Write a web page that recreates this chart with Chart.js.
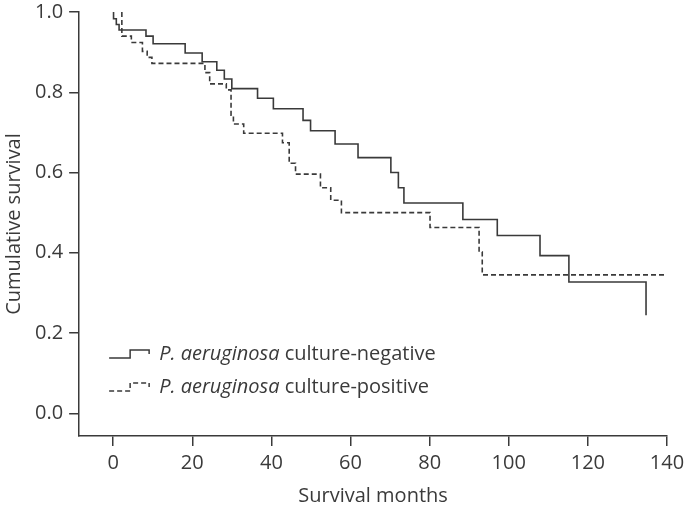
<!DOCTYPE html>
<html>
<head>
<meta charset="utf-8">
<script src="https://cdn.jsdelivr.net/npm/chart.js@4.4.1/dist/chart.umd.min.js"></script>
<style>
  html, body { margin: 0; padding: 0; background: #fff; }
  #wrap { width: 684px; height: 508px; position: relative; }
</style>
</head>
<body>
<div id="wrap"><canvas id="kmChart"></canvas></div>
<script>
// Kaplan-Meier steps (months, cumulative survival after each drop)
const negMonths = [0, 0.1, 0.8, 1.5, 8.3, 10.1, 18.2, 22.5, 26.2, 28.1, 30.0, 36.5, 40.5, 48.0, 49.9, 56.1, 61.9, 70.2, 72.1, 73.5, 88.4, 97.1, 107.9, 115.2, 134.7];
const negSurvival = [1.0, 0.983, 0.969, 0.955, 0.94, 0.921, 0.898, 0.876, 0.855, 0.833, 0.809, 0.785, 0.759, 0.73, 0.704, 0.671, 0.637, 0.6, 0.562, 0.524, 0.483, 0.443, 0.393, 0.327, 0.244];

const posMonths = [2.2, 2.2, 4.6, 7.4, 8.6, 9.8, 23.2, 24.4, 28.6, 29.8, 30.4, 33.0, 42.8, 44.5, 46.1, 52.4, 55.0, 57.7, 80.1, 92.5, 93.3, 140];
const posSurvival = [1.0, 0.94, 0.924, 0.902, 0.887, 0.872, 0.849, 0.821, 0.806, 0.743, 0.721, 0.698, 0.674, 0.623, 0.596, 0.562, 0.531, 0.5, 0.463, 0.402, 0.345, 0.345];

const xTicks = [0, 20, 40, 60, 80, 100, 120, 140];
const yTicks = [0, 0.2, 0.4, 0.6, 0.8, 1.0];

const legendItalic = ["P. aeruginosa", "P. aeruginosa"];
const legendRest = [" culture-negative", " culture-positive"];

const FONT = "'Open Sans', Roboto, sans-serif";
const FSIZE = 20;
const INK = "#3a3a3a";

function toPoints(xs, ys) {
  return xs.map((x, i) => ({ x: x, y: ys[i] }));
}

// legend with the little step icon, drawn inside the plot
const kmLegend = {
  id: "kmLegend",
  afterDraw(chart) {
    const ctx = chart.ctx;
    const area = chart.chartArea;
    chart.data.datasets.forEach((ds, i) => {
      const x0 = area.left + 30;
      const y0 = area.bottom - 82 + i * 33;
      ctx.save();
      ctx.strokeStyle = INK;
      ctx.lineWidth = 1.5;
      ctx.setLineDash(ds.borderDash || []);
      ctx.beginPath();
      ctx.moveTo(x0, y0 + 4);
      ctx.lineTo(x0 + 21, y0 + 4);
      ctx.lineTo(x0 + 21, y0 - 4);
      ctx.lineTo(x0 + 40, y0 - 4);
      ctx.lineTo(x0 + 40, y0);
      ctx.stroke();
      ctx.setLineDash([]);
      ctx.fillStyle = INK;
      ctx.textBaseline = "middle";
      ctx.font = "italic " + FSIZE + "px " + FONT;
      ctx.fillText(legendItalic[i], x0 + 50, y0);
      const w = ctx.measureText(legendItalic[i]).width;
      ctx.font = FSIZE + "px " + FONT;
      ctx.fillText(legendRest[i], x0 + 50 + w, y0);
      ctx.restore();
    });
  }
};

new Chart(document.getElementById("kmChart"), {
  type: "line",
  data: {
    datasets: [
      {
        label: "P. aeruginosa culture-negative",
        data: toPoints(negMonths, negSurvival),
        borderColor: INK,
        borderWidth: 1.6,
        pointRadius: 0,
        stepped: "before",
        fill: false
      },
      {
        label: "P. aeruginosa culture-positive",
        data: toPoints(posMonths, posSurvival),
        borderColor: INK,
        borderWidth: 1.6,
        borderDash: [5, 3],
        pointRadius: 0,
        stepped: "before",
        fill: false
      }
    ]
  },
  options: {
    responsive: true,
    maintainAspectRatio: false,
    animation: false,
    layout: { padding: { top: 12, right: 17, left: 2, bottom: 0 } },
    plugins: {
      legend: { display: false },
      tooltip: { enabled: false }
    },
    scales: {
      x: {
        type: "linear",
        min: -8.6,
        max: 140,
        afterBuildTicks: s => { s.ticks = xTicks.map(v => ({ value: v })); },
        afterFit: s => { s.paddingLeft = 0; s.paddingRight = 0; },
        grid: { drawOnChartArea: false, drawTicks: true, tickLength: 10, color: INK, lineWidth: 1.5 },
        border: { display: true, color: INK, width: 1.5 },
        ticks: { color: INK, font: { family: FONT, size: FSIZE }, padding: 5, maxRotation: 0, autoSkip: false },
        title: { display: true, text: "Survival months", color: INK, font: { family: FONT, size: FSIZE }, padding: { top: 4, bottom: 0 } }
      },
      y: {
        type: "linear",
        min: -0.0566,
        max: 1.0,
        afterBuildTicks: s => { s.ticks = yTicks.map(v => ({ value: v })); },
        afterFit: s => { s.paddingTop = 0; s.paddingBottom = 0; },
        grid: { drawOnChartArea: false, drawTicks: true, tickLength: 10, color: INK, lineWidth: 1.5 },
        border: { display: true, color: INK, width: 1.5 },
        ticks: { color: INK, font: { family: FONT, size: FSIZE }, padding: 6, callback: v => v.toFixed(1) },
        title: { display: true, text: "Cumulative survival", color: INK, font: { family: FONT, size: FSIZE }, padding: { top: 0, bottom: 3 } }
      }
    }
  },
  plugins: [kmLegend]
});
</script>
</body>
</html>
